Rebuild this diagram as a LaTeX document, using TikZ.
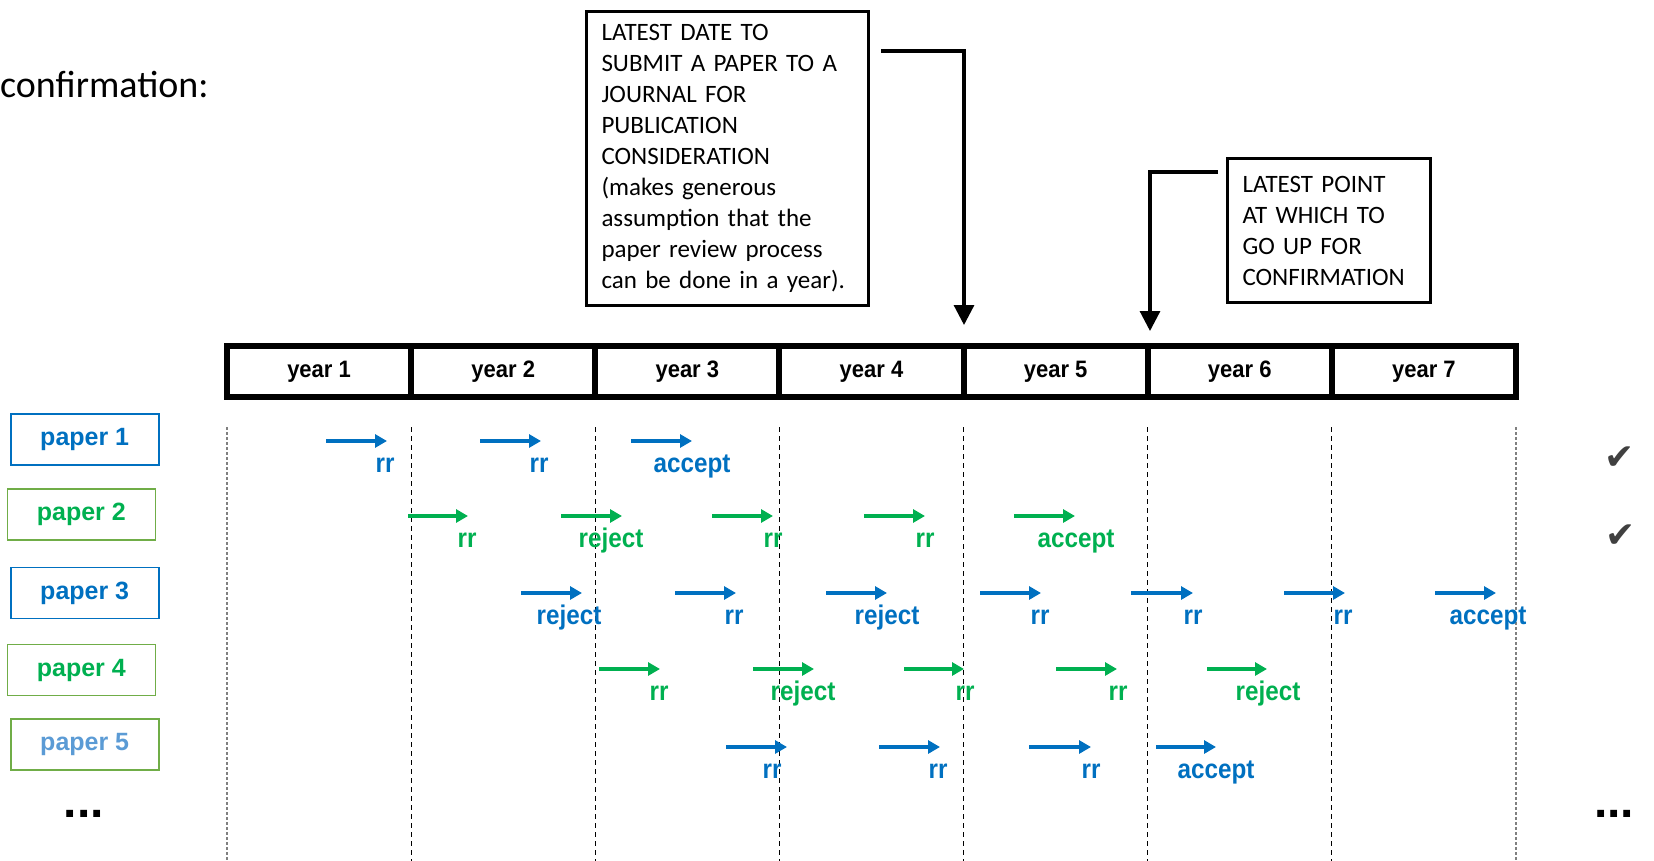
\documentclass[tikz,border=0pt]{standalone}
\usepackage{fontspec}
\setmainfont{Carlito}
\newfontfamily\arialfont{Liberation Sans}
\newfontfamily\dejavu{DejaVu Sans}
\usetikzlibrary{arrows.meta}
\definecolor{pblue}{HTML}{0070C0}
\definecolor{pgreen}{HTML}{00B050}
\definecolor{gborder}{HTML}{70AD47}
\definecolor{lblue}{HTML}{5B9BD5}
\definecolor{chk}{HTML}{404040}
\newcommand\paperrow[4]{%
  \foreach \xs/\xe/\lx/\lab [count=\j] in {#4} {
    \coordinate (r#1-s\j) at (\xs,#2);
    \coordinate (r#1-e\j) at (\xe,#2);
    \draw[rowarrow, draw=#3, fill=#3] (r#1-s\j) -- (r#1-e\j);
    \node[rowlabel, text=#3] (r#1-l\j) at (\lx,#2+31) {\scalebox{0.97}[1.08]{\lab}};
  }}
\begin{document}
\begin{tikzpicture}[x=1pt,y=-1pt,
  note/.style={draw, line width=3.2pt, align=left, font=\fontsize{25}{31}\selectfont, inner xsep=15pt, inner ysep=0pt},
  yearcell/.style={draw, line width=6pt, minimum width=184.14pt, minimum height=51pt, inner sep=0pt, font=\arialfont\bfseries\fontsize{22}{26}\selectfont},
  callout/.style={line width=3.2pt, -{Triangle[width=20pt,length=20pt]}},
  paperbox/.style={draw, line width=1.6pt, minimum width=148pt, minimum height=51pt, inner sep=0pt, font=\arialfont\bfseries\fontsize{25}{28}\selectfont},
  rowarrow/.style={line width=3.6pt, -{Triangle[width=13pt,length=12pt]}},
  rowlabel/.style={anchor=base, inner sep=0pt, font=\arialfont\bfseries\fontsize{25}{28}\selectfont},
  gridline/.style={line width=1.1pt, dash pattern=on 5pt off 4pt},
  edgeline/.style={line width=1.3pt, gray, dash pattern=on 3pt off 2pt},
  dots/.style={inner sep=0pt, font=\arialfont\bfseries\fontsize{48}{50}\selectfont},
  check/.style={inner sep=0pt, text=chk, font=\dejavu\fontsize{36}{38}\selectfont}
]
\useasboundingbox (0,0) rectangle (1654,861);

% title
\node[anchor=west, inner sep=0pt, font=\fontsize{38}{44}\selectfont] (title) at (0,85) {confirmation:};

% callout boxes
\node[note, text width=252pt, minimum height=294pt] (box1) at (727.5,158.5)
  {LATEST DATE TO\\SUBMIT A PAPER TO A\\JOURNAL FOR\\PUBLICATION\\CONSIDERATION\\(makes generous\\assumption that the\\paper review process\\can be done in a year).};
\node[note, text width=173pt, minimum height=144pt] (box2) at (1329,230.5)
  {LATEST POINT\\AT WHICH TO\\GO UP FOR\\CONFIRMATION};

% year bar
\foreach \i in {1,...,7}
  \node[yearcell] (y\i) at ({227+184.14*(\i-0.5)},371.5) {\scalebox{1}[1.08]{year \i}};

% callout arrows
\coordinate (c1s) at (881,51);
\coordinate (c1e) at (964,325);
\draw[callout] (c1s) -| (c1e);
\coordinate (c2s) at (1218,172);
\coordinate (c2e) at (1150,331);
\draw[callout] (c2s) -| (c2e);

% dashed year lines
\foreach \k in {1,...,6}
  \draw[gridline] ({227+184.14*\k},427) -- ({227+184.14*\k},861);
\draw[edgeline] (227,427) -- (227,861);
\draw[edgeline] (1516,427) -- (1516,861);

% paper boxes
\node[paperbox, draw=pblue, text=pblue] (p1) at (84.7,439.5) {paper 1};
\node[paperbox, draw=gborder, text=pgreen] (p2) at (81.3,514.5) {paper 2};
\node[paperbox, draw=pblue, text=pblue] (p3) at (84.7,593) {paper 3};
\node[paperbox, draw=gborder, text=pgreen] (p4) at (81.3,670) {paper 4};
\node[paperbox, draw=gborder, text=lblue] (p5) at (84.7,744.5) {paper 5};
\node[dots] (dl) at (84,814) {...};
\node[dots] (dr) at (1614,814) {...};

% checks
\node[check] (ck1) at (1620,458) {✔};
\node[check] (ck2) at (1621,536) {✔};

% rows
\paperrow{1}{441}{pblue}{326/387/385/rr, 480/541/539/rr, 631/692/692/accept}
\paperrow{2}{516}{pgreen}{408/468/467/rr, 561/622/611/reject, 712/773/773/rr, 864/925/925/rr, 1014/1075/1076/accept}
\paperrow{3}{593}{pblue}{521/582/569/reject, 675/736/734/rr, 826/887/887/reject, 980/1041/1040/rr, 1131/1193/1193/rr, 1284/1345/1343/rr, 1435/1496/1488/accept}
\paperrow{4}{669}{pgreen}{599/660/659/rr, 753/814/803/reject, 904/964/965/rr, 1056/1117/1118/rr, 1207/1267/1268/reject}
\paperrow{5}{747}{pblue}{726/787/772/rr, 879/940/938/rr, 1029/1091/1091/rr, 1156/1216/1216/accept}
\end{tikzpicture}
\end{document}
